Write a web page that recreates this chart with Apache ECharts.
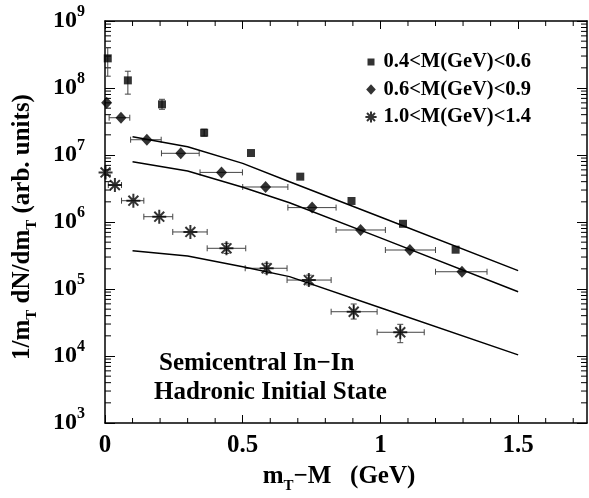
<!DOCTYPE html>
<html><head><meta charset="utf-8">
<script src="https://cdn.jsdelivr.net/npm/echarts@6/dist/echarts.min.js"></script>
<style>html,body{margin:0;padding:0;background:#fff}#c{width:589px;height:498px}</style>
</head><body><div id="c"></div>
<script>
// ---------- data ----------
const seriesNames = ['0.4<M(GeV)<0.6', '0.6<M(GeV)<0.9', '1.0<M(GeV)<1.4'];

const sqX   = [0.01, 0.083, 0.207, 0.36, 0.53, 0.709, 0.895, 1.082, 1.273];
const sqY   = [2.77e8, 1.3e8, 5.7e7, 2.15e7, 1.07e7, 4.75e6, 2.06e6, 9.4e5, 3.86e5];
const sqYLo = [1.5e8, 8.1e7, 4.81e7, 1.91e7, null, null, null, null, null];
const sqYHi = [4.0e8, 1.78e8, 6.78e7, 2.43e7, null, null, null, null, null];

const dmX   = [0.006, 0.058, 0.152, 0.275, 0.423, 0.583, 0.752, 0.928, 1.107, 1.296];
const dmY   = [6.0e7, 3.6e7, 1.69e7, 1.06e7, 5.5e6, 3.33e6, 1.64e6, 7.6e5, 3.82e5, 1.81e5];
const dmXLo = [null, 0.015, 0.093, 0.205, 0.345, 0.50, 0.664, 0.839, 1.018, 1.20];
const dmXHi = [null, 0.09, 0.204, 0.342, 0.499, 0.664, 0.839, 1.018, 1.20, 1.387];

const stX   = [0.002, 0.036, 0.103, 0.197, 0.31, 0.441, 0.587, 0.74, 0.903, 1.072];
const stY   = [5.5e6, 3.56e6, 2.08e6, 1.2e6, 7.1e5, 4.05e5, 2.04e5, 1.36e5, 4.58e4, 2.26e4];
const stXLo = [null, 0.012, 0.06, 0.141, 0.246, 0.371, 0.509, 0.661, 0.821, 0.988];
const stXHi = [null, 0.06, 0.141, 0.246, 0.371, 0.511, 0.661, 0.821, 0.988, 1.159];
const stYLo = [null, null, null, null, null, 3.4e5, 1.72e5, 1.15e5, 3.56e4, 1.58e4];
const stYHi = [null, null, null, null, null, 4.8e5, 2.42e5, 1.61e5, 5.97e4, 2.97e4];

const curveX = [0.1, 0.3, 0.5, 0.67, 1.0, 1.5];
const curve1 = [1.87e7, 1.33e7, 7.5e6, 3.99e6, 1.19e6, 1.88e5];
const curve2 = [7.94e6, 5.77e6, 3.3e6, 1.94e6, 5.79e5, 9.1e4];
const curve3 = [3.73e5, 3.11e5, 2.15e5, 1.53e5, 5.26e4, 1.04e4];

const xTickLabels = [0, 0.5, 1, 1.5];
const xMinorTicks = [0.1, 0.2, 0.3, 0.4, 0.6, 0.7, 0.8, 0.9, 1.1, 1.2, 1.3, 1.4, 1.6, 1.7];
const yMinorMult = [2, 3, 4, 5, 6, 7, 8, 9];
const yDecades = [3, 4, 5, 6, 7, 8];

const noteLines = ['Semicentral In\u2212In', 'Hadronic Initial State'];

// ---------- helpers ----------
const FONT = '"Liberation Serif", "Times New Roman", serif';
const cv = document.createElement('canvas').getContext('2d');
function tw(t, s) { cv.font = 'bold ' + s + 'px ' + FONT; return cv.measureText(t).width; }
function textEl(t, s, x, y) {
  return { type: 'text', x: x, y: y, style: { text: t, font: 'bold ' + s + 'px ' + FONT, fill: '#000',
    align: 'left', verticalAlign: 'middle', textAlign: 'left', textVerticalAlign: 'middle' } };
}
function richLine(pieces, cx, cy, rot) {
  const total = pieces.reduce((a, p) => a + tw(p[0], p[1]), 0);
  let x = -total / 2; const children = [];
  pieces.forEach(p => { children.push(textEl(p[0], p[1], x, p[2])); x += tw(p[0], p[1]); });
  return { type: 'group', x: cx, y: cy, rotation: rot, children: children };
}
const zip = (...arrs) => arrs[0].map((_, i) => arrs.map(a => a[i] == null ? NaN : a[i]));
const ok = v => v != null && !isNaN(v);

const yMinor = [];
yDecades.forEach(d => yMinorMult.forEach(m => yMinor.push(m * Math.pow(10, d))));

const EB = { stroke: '#444', lineWidth: 1 };
function errRender(params, api) {
  const x = api.value(0), y = api.value(1);
  const xlo = api.value(2), xhi = api.value(3), ylo = api.value(4), yhi = api.value(5);
  const ch = [];
  const ln = (x1, y1, x2, y2) => ch.push({ type: 'line', shape: { x1, y1, x2, y2 }, style: EB });
  if (ok(xlo) && ok(xhi)) {
    const a = api.coord([xlo, y]), b = api.coord([xhi, y]);
    ln(a[0], a[1], b[0], b[1]);
    ln(a[0], a[1] - 3, a[0], a[1] + 3);
    ln(b[0], b[1] - 3, b[0], b[1] + 3);
  }
  if (ok(ylo) && ok(yhi)) {
    const a = api.coord([x, ylo]), b = api.coord([x, yhi]);
    ln(a[0], a[1], b[0], b[1]);
    ln(a[0] - 3, a[1], a[0] + 3, a[1]);
    ln(b[0] - 3, b[1], b[0] + 3, b[1]);
  }
  return { type: 'group', children: ch };
}
const TK = { stroke: '#000', lineWidth: 1 };
function yMinorRender(params, api) {
  const cs = params.coordSys; const p = api.coord([0.5, api.value(1)]);
  return { type: 'group', children: [
    { type: 'line', shape: { x1: cs.x, y1: p[1], x2: cs.x + 6, y2: p[1] }, style: TK },
    { type: 'line', shape: { x1: cs.x + cs.width - 6, y1: p[1], x2: cs.x + cs.width, y2: p[1] }, style: TK }
  ] };
}
function xMinorRender(params, api) {
  const cs = params.coordSys; const p = api.coord([api.value(0), 1e6]);
  return { type: 'group', children: [
    { type: 'line', shape: { x1: p[0], y1: cs.y + cs.height, x2: p[0], y2: cs.y + cs.height - 5 }, style: TK },
    { type: 'line', shape: { x1: p[0], y1: cs.y, x2: p[0], y2: cs.y + 5 }, style: TK }
  ] };
}

const STAR = 'path://M6,0L6,12M0,6L12,6M1.76,1.76L10.24,10.24M10.24,1.76L1.76,10.24';
const LG_SQ = 'path://M0,0M15,12M4,2.5h7v7h-7z';
const LG_DM = 'path://M0,0M15,12M7.5,0.8L12.3,6L7.5,11.2L2.7,6Z';
const LG_ST = 'path://M0,0M15,12M7.5,0.4L7.5,11.6M1.9,6L13.1,6M3.5,2L11.5,10M11.5,2L3.5,10';

const axisLine = { show: true, onZero: false, lineStyle: { color: '#000', width: 1.5 } };
const xAxisBase = { type: 'value', min: 0, max: 1.75, interval: 0.5, axisLine: axisLine, splitLine: { show: false },
  axisTick: { inside: true, length: 8, customValues: xTickLabels, lineStyle: { color: '#000', width: 1 } } };
const yAxisBase = { type: 'log', logBase: 10, min: 1e3, max: 1e9, axisLine: axisLine, splitLine: { show: false },
  axisTick: { inside: true, length: 10, lineStyle: { color: '#000', width: 1 } } };

const chart = echarts.init(document.getElementById('c'), null, { renderer: 'canvas' });
chart.setOption({
  animation: false,
  backgroundColor: '#fff',
  grid: { left: 105, right: 2, top: 21, bottom: 75, containLabel: false, outerBoundsMode: 'none' },
  xAxis: [
    Object.assign({}, xAxisBase, { position: 'bottom',
      axisLabel: { customValues: xTickLabels, margin: 10, fontFamily: FONT, fontWeight: 'bold', fontSize: 25, color: '#000',
        formatter: v => String(v) } }),
    Object.assign({}, xAxisBase, { position: 'top', axisLabel: { show: false } })
  ],
  yAxis: [
    Object.assign({}, yAxisBase, { position: 'left',
      axisLabel: { margin: 20, fontFamily: FONT, fontWeight: 'bold', fontSize: 24, color: '#000',
        formatter: v => '{b|10}{s|' + Math.round(Math.log10(v)) + '}',
        rich: { b: { fontFamily: FONT, fontWeight: 'bold', fontSize: 24, lineHeight: 34, color: '#000' },
                s: { fontFamily: FONT, fontWeight: 'bold', fontSize: 16, lineHeight: 16, verticalAlign: 'top', color: '#000' } } } }),
    Object.assign({}, yAxisBase, { position: 'right', axisLabel: { show: false } })
  ],
  legend: {
    orient: 'vertical', left: 357.5, top: 46.5, padding: 5, itemWidth: 15, itemHeight: 12, itemGap: 6.5, selectedMode: false,
    textStyle: { fontFamily: FONT, fontWeight: 'bold', fontSize: 20.5, color: '#000' },
    data: [{ name: seriesNames[0], icon: LG_SQ }, { name: seriesNames[1], icon: LG_DM }, { name: seriesNames[2], icon: LG_ST }]
  },
  graphic: [
    richLine([['1/m', 25, 0], ['T', 15, 9], [' dN/dm', 25, 0], ['T', 15, 9], [' (arb. units)', 25, 0]], 23, 227, Math.PI / 2),
    richLine([['m', 25, 0], ['T', 15, 9], ['\u2212M   (GeV)', 25, 0]], 339, 477, 0),
    textEl(noteLines[0], 25, 159, 364),
    textEl(noteLines[1], 25, 154, 392.5)
  ],
  series: [
    { type: 'custom', name: 'xminor', renderItem: xMinorRender, data: xMinorTicks.map(v => [v, 1e6]), silent: true, z: 1 },
    { type: 'custom', name: 'yminor', renderItem: yMinorRender, data: yMinor.map(v => [0.5, v]), silent: true, z: 1 },
    { type: 'custom', name: 'eb1', renderItem: errRender, encode: { x: 0, y: 1 }, data: zip(sqX, sqY, sqX.map(() => null), sqX.map(() => null), sqYLo, sqYHi), z: 2 },
    { type: 'custom', name: 'eb2', renderItem: errRender, encode: { x: 0, y: 1 }, data: zip(dmX, dmY, dmXLo, dmXHi, dmX.map(() => null), dmX.map(() => null)), z: 2 },
    { type: 'custom', name: 'eb3', renderItem: errRender, encode: { x: 0, y: 1 }, data: zip(stX, stY, stXLo, stXHi, stYLo, stYHi), z: 2 },
    { type: 'line', name: 'c1', data: zip(curveX, curve1), showSymbol: false, symbol: 'none', lineStyle: { color: '#000', width: 1.5 }, z: 3 },
    { type: 'line', name: 'c2', data: zip(curveX, curve2), showSymbol: false, symbol: 'none', lineStyle: { color: '#000', width: 1.5 }, z: 3 },
    { type: 'line', name: 'c3', data: zip(curveX, curve3), showSymbol: false, symbol: 'none', lineStyle: { color: '#000', width: 1.5 }, z: 3 },
    { type: 'scatter', name: seriesNames[0], data: zip(sqX, sqY), symbol: 'rect', symbolSize: 8, itemStyle: { color: '#000' }, z: 4 },
    { type: 'scatter', name: seriesNames[1], data: zip(dmX, dmY), symbol: 'diamond', symbolSize: [11, 12], itemStyle: { color: '#000' }, z: 4 },
    { type: 'scatter', name: seriesNames[2], data: zip(stX, stY), symbol: STAR, symbolSize: 14,
      itemStyle: { color: 'rgba(0,0,0,0)', borderColor: '#000', borderWidth: 2 }, z: 4 }
  ]
});
</script></body></html>
